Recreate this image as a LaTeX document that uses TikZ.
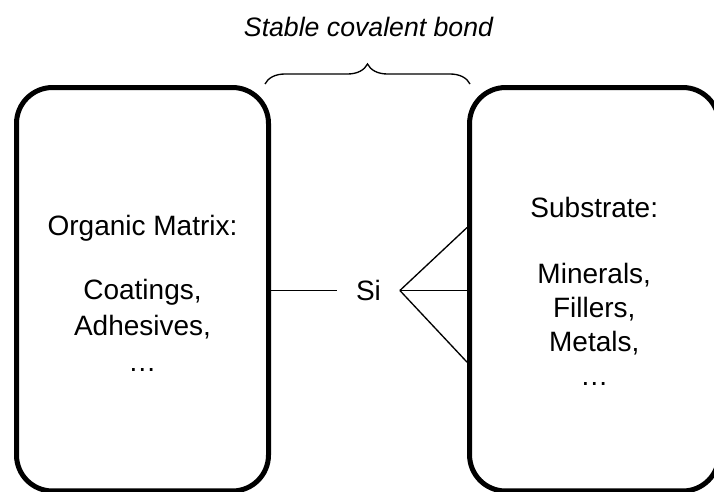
\documentclass[tikz,border=0pt]{standalone}
\usepackage{fontspec}
\setmainfont{Liberation Sans}
\usetikzlibrary{positioning,decorations.pathreplacing}

\begin{document}
\begin{tikzpicture}[x=0.75pt, y=-0.75pt, node distance=338.8pt,
    box/.style={draw, line width=3.75pt, rounded corners=27pt, minimum height=302.6pt, inner sep=0pt},
    txt/.style={anchor=north, align=center, inner sep=0pt, font=\fontsize{21}{27}\selectfont},
    bond/.style={line width=1pt}]
    \useasboundingbox (0,0) rectangle (714,492);
    \node[box, minimum width=189pt] (matrix) at (142.5,289.25) {};
    \node[box, minimum width=187pt, right of=matrix] (substrate) {};
    \node[txt] (matrixtxt) at (142.5,214.5) {Organic Matrix:\\[21pt]Coatings,\\Adhesives,\\\ldots};
    \node[txt, font=\fontsize{21}{25.5}\selectfont] (substratetxt) at (594.25,196.5) {Substrate:\\[24pt]Minerals,\\Fillers,\\Metals,\\\ldots};
    \node[inner xsep=14pt, inner ysep=0pt, font=\fontsize{21}{24}\selectfont] (si) at (368.5,290.5) {Si};
    \node[anchor=base, font=\itshape\fontsize{20}{24}\selectfont] (title) at (368.5,37) {Stable covalent bond};
    \draw[bond] (matrix.east |- si.west) -- (si.west);
    \draw[bond] (si.east) -- ([yshift=46.3pt]substrate.west);
    \draw[bond] (si.east) -- (si.east -| substrate.west);
    \draw[bond] (si.east) -- ([yshift=-54.7pt]substrate.west);
    \draw[line width=1pt, decorate, decoration={brace, amplitude=15pt}] (265,84) -- (470,84);
\end{tikzpicture}
\end{document}
